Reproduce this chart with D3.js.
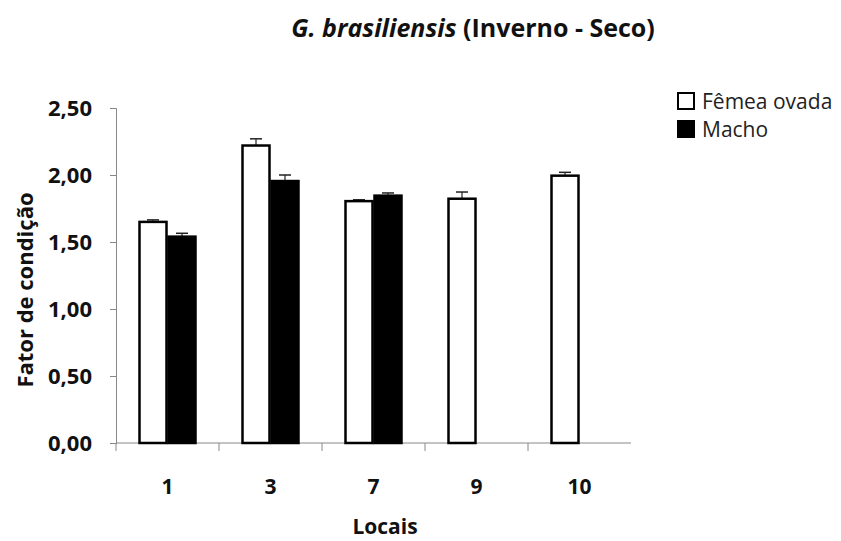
<!DOCTYPE html>
<html lang="pt">
<head>
  <meta charset="utf-8">
  <title>G. brasiliensis</title>
  <script src="https://d3js.org/d3.v7.min.js"></script>
  <style>
    body { margin: 0; background: #fff; }
    svg { display: block; }
    text { font-family: "Open Sans", Lato, sans-serif; }
  </style>
</head>
<body>
  <svg width="841" height="541" id="mainsvg"></svg>
  <script>
    const locais = ['1', '3', '7', '9', '10'];
    const series = ['Fêmea ovada', 'Macho'];
    const femea = [1.65, 2.22, 1.805, 1.823, 1.995];
    const femeaErr = [0.015, 0.05, 0.01, 0.05, 0.025];
    const macho = [1.54, 1.955, 1.846, null, null];
    const machoErr = [0.025, 0.045, 0.02, null, null];
    const yTicks = [0, 0.5, 1, 1.5, 2, 2.5];

    const svg = d3.select('#mainsvg');
    const margin = { top: 108, left: 116 };
    const innerWidth = 515;
    const innerHeight = 335;
    const g = svg.append('g').attr('transform', `translate(${margin.left}, ${margin.top})`);

    const xScale = d3.scaleBand().domain(locais).range([0, innerWidth]);
    const xSub = d3.scaleBand().domain(series).range([0, 58]);
    const yScale = d3.scaleLinear().domain([0, 2.5]).range([innerHeight, 0]);
    const fmt = d => d.toFixed(2).replace('.', ',');

    // eixo y
    const yAxis = g.append('g').call(d3.axisLeft(yScale).tickValues(yTicks).tickFormat(fmt).tickSize(6).tickPadding(18));
    yAxis.selectAll('line, path').attr('stroke', '#888');
    yAxis.selectAll('text').attr('font-size', 22).attr('font-weight', 'bold').attr('fill', '#111')
      .attr('font-family', '"Open Sans"').attr('dy', '0.36em');

    // eixo x: ticks nas divisões
    const xAxis = g.append('g').attr('transform', `translate(0, ${innerHeight})`);
    xAxis.append('line').attr('x1', 0).attr('x2', innerWidth).attr('stroke', '#888');
    xAxis.selectAll('.sep').data(locais).enter().append('line')
      .attr('x1', d => xScale(d)).attr('x2', d => xScale(d))
      .attr('y1', 0).attr('y2', 8).attr('stroke', '#888');
    xAxis.selectAll('.lbl').data(locais).enter().append('text')
      .attr('x', d => xScale(d) + xScale.bandwidth() / 2)
      .attr('y', 51)
      .attr('text-anchor', 'middle')
      .attr('font-size', 21).attr('font-weight', 'bold').attr('fill', '#111')
      .text(d => d);

    const off = d => xScale(d) + (xScale.bandwidth() - 58) / 2;
    const bw = xSub.bandwidth();

    function drawSeries(vals, errs, name, fill) {
      const data = locais.map((l, i) => ({ l, v: vals[i], e: errs[i] })).filter(d => d.v != null);
      const sx = d => off(d.l) + xSub(name);
      // barras de erro
      g.selectAll(null).data(data).enter().append('line')
        .attr('x1', d => sx(d) + bw / 2).attr('x2', d => sx(d) + bw / 2)
        .attr('y1', d => yScale(d.v)).attr('y2', d => yScale(d.v + d.e))
        .attr('stroke', '#222').attr('stroke-width', 1.2);
      g.selectAll(null).data(data).enter().append('line')
        .attr('x1', d => sx(d) + bw / 2 - 6).attr('x2', d => sx(d) + bw / 2 + 6)
        .attr('y1', d => yScale(d.v + d.e)).attr('y2', d => yScale(d.v + d.e))
        .attr('stroke', '#222').attr('stroke-width', 1.5);
      g.selectAll(null).data(data).enter().append('rect')
        .attr('x', d => sx(d) + 1).attr('width', bw - 2)
        .attr('y', d => yScale(d.v)).attr('height', d => innerHeight - yScale(d.v))
        .attr('fill', fill).attr('stroke', '#000').attr('stroke-width', 2.5);
    }
    drawSeries(femea, femeaErr, 'Fêmea ovada', '#fff');
    drawSeries(macho, machoErr, 'Macho', '#000');

    // títulos
    const title = svg.append('text').attr('x', 473).attr('y', 37).attr('text-anchor', 'middle')
      .attr('font-size', 25).attr('font-weight', 'bold').attr('fill', '#111');
    title.append('tspan').attr('font-style', 'italic').text('G. brasiliensis');
    title.append('tspan').text(' (Inverno - Seco)');

    svg.append('text').attr('transform', 'translate(33, 290) rotate(-90)').attr('text-anchor', 'middle')
      .attr('font-size', 22).attr('font-weight', 'bold').attr('fill', '#111').text('Fator de condição');
    svg.append('text').attr('x', 385).attr('y', 534).attr('text-anchor', 'middle')
      .attr('font-size', 21).attr('font-weight', 'bold').attr('fill', '#111').text('Locais');

    // legenda
    const legend = svg.selectAll('.legend').data(series).enter().append('g')
      .attr('transform', (d, i) => `translate(678, ${93 + i * 28})`);
    legend.append('rect').attr('width', 16).attr('height', 16)
      .attr('fill', (d, i) => i === 0 ? '#fff' : '#000').attr('stroke', '#000').attr('stroke-width', 2);
    legend.append('text').attr('x', 24).attr('y', 16).attr('font-size', 21).attr('fill', '#222').text(d => d);
  </script>
</body>
</html>
